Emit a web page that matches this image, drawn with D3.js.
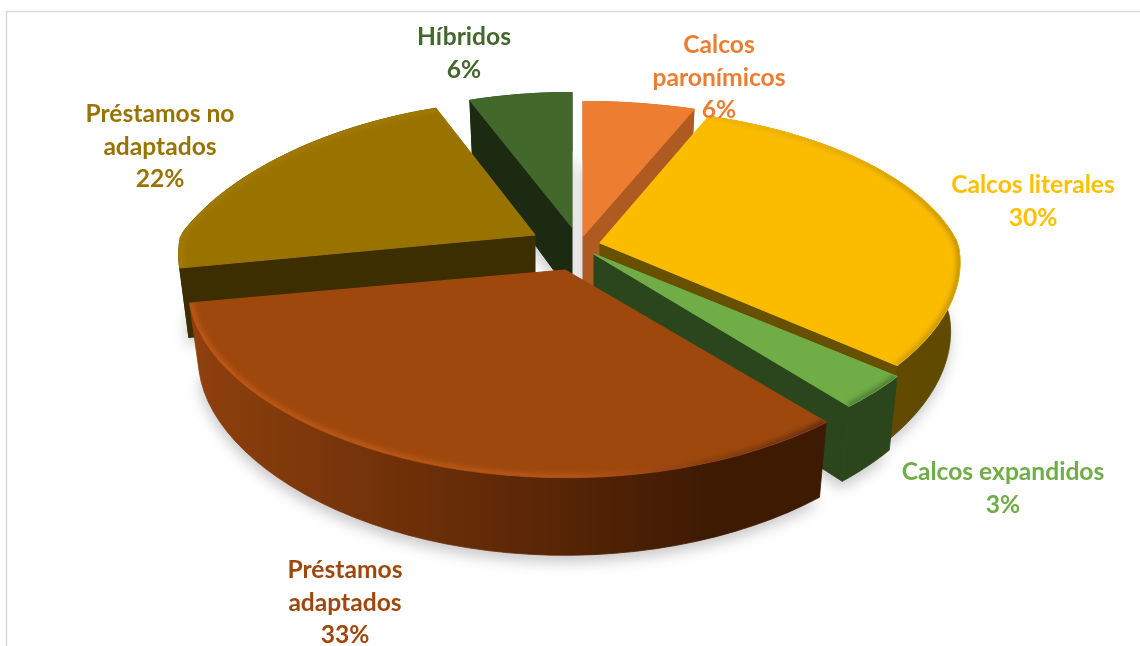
<!DOCTYPE html>
<html><head><meta charset="utf-8">
<script src="https://cdn.jsdelivr.net/npm/d3@7/dist/d3.min.js"></script>
<style>html,body{margin:0;padding:0;background:#fff;overflow:hidden}svg{display:block}</style>
</head><body><div id="chart"></div>
<script>
// ---- data ----
const categories = ["Calcos paronímicos","Calcos literales","Calcos expandidos","Préstamos adaptados","Préstamos no adaptados","Híbridos"];
const shares = [6,30,3,33,22,6];
const labelLines = [["Calcos","paronímicos","6%"],["Calcos literales","30%"],["Calcos expandidos","3%"],["Préstamos","adaptados","33%"],["Préstamos no","adaptados","22%"],["Híbridos","6%"]];
// ---- style ----
const topColors = ["#ED7D31","#FBBC00","#70AD47","#9E480E","#997300","#43682B"];
const textColors = ["#ED7D31","#FFC000","#70AD47","#9E480E","#997300","#43682B"];
const wallFrom = ["#AE5A21","#675000","#2B451D","#8F400D","#3D2E00","#1B2A11"];
const wallMid  = ["#AE5A21","#675000","#2B451D","#642B07","#3D2E00","#1B2A11"];
const wallTo   = ["#AE5A21","#604A00","#2B451D","#3E1A03","#3D2E00","#1B2A11"];
const rimFrom = ["#ED7D31","#F2B500","#4F7D32","#C05A18","#A27B00","#43682B"];
const rimMid  = ["#ED7D31","#DDA600","#4F7D32","#B9551A","#A27B00","#43682B"];
const rimTo   = ["#ED7D31","#C39400","#4F7D32","#5F2A07","#A27B00","#43682B"];
// ---- layout (screen position of each wedge's apex, horizontal radius factor, label anchor) ----
const apexX = [583,600,594,565,535,572], apexY = [236,243,254,270,235,227];
const radiusK = [1,.98,1,1.025,.97,1];
const labelX = [719,1033,1003,345,160,464], labelY = [53,193,480,578,122,45];
const drawOrder = [5,0,4,1,2,3];
const W=1140,H=646,Rx=365,RyFar=165,RyNear=170,persp=.2266,depth=68,inset=.026,lineH=32.5;

const svg=d3.select("#chart").append("svg").attr("width",W).attr("height",H);
const defs=svg.append("defs");
defs.append("filter").attr("id","shadow").attr("x","-20%").attr("y","-20%").attr("width","140%").attr("height","140%")
  .append("feGaussianBlur").attr("stdDeviation",7);
defs.append("filter").attr("id","rim").attr("x","-20%").attr("y","-20%").attr("width","140%").attr("height","140%")
  .append("feGaussianBlur").attr("stdDeviation",2.5);

svg.append("path").attr("d",`M6.5,${H}V11.5H${W}`).attr("fill","none").attr("stroke","#d9d9d9").attr("stroke-width",1.5);

const arcs=d3.pie().sort(null).value(d=>d)(shares);
function project(a,r,z,i){
  const x=Math.sin(a)*r, y=Math.cos(a)*r;
  const sY=y>0?1/(1+persp*y):1/(1+.8*persp*y);
  const sX=y>0?(x<0?1/(1+1.5*persp*y):1/(1+persp*y)):1/(1+.5*persp*y);
  const k=1-inset*z, Ry=y>0?RyFar:RyNear;
  return [apexX[i]+Rx*radiusK[i]*x*sX*k, apexY[i]-Ry*y*sY*k+depth*z*sY];
}
const line=d3.line();
const rimPts=(d,i,z)=>d3.range(0,41).map(t=>project(d.startAngle+(d.endAngle-d.startAngle)*t/40,1,z,i));
const facePts=(d,i,z)=>[project(0,0,z,i),...rimPts(d,i,z)];
function gradient(id,i,stops){
  const xs=rimPts(arcs[i],i,0).map(p=>p[0]);
  const lg=defs.append("linearGradient").attr("id",id).attr("gradientUnits","userSpaceOnUse")
    .attr("x1",d3.min(xs)).attr("x2",d3.max(xs)).attr("y1",0).attr("y2",0);
  stops.forEach(s=>lg.append("stop").attr("offset",s[0]).attr("stop-color",s[1]));
}

// soft shadow on the ground
const sh=svg.append("g").attr("filter","url(#shadow)").attr("opacity",.32);
arcs.forEach((d,i)=>sh.append("path").attr("d",line(facePts(d,i,1))+"Z")
   .attr("fill","#555").attr("transform","translate(-1,7)"));

drawOrder.forEach(i=>{
  const d=arcs[i],g=svg.append("g").attr("class","slice").attr("stroke-linejoin","round");
  gradient("wall"+i,i,[[0,wallFrom[i]],[.45,wallMid[i]],[.82,wallTo[i]]]);
  gradient("rimg"+i,i,[[0,rimFrom[i]],[.6,rimMid[i]],[1,rimTo[i]]]);
  // radial cut walls that face the viewer
  [[d.startAngle,d.startAngle-Math.PI/2],[d.endAngle,d.endAngle+Math.PI/2]].forEach(([a,n])=>{
    if(Math.cos(n)<-1e-6){
      const pts=[project(0,0,0,i),project(a,1,0,i),project(a,1,1,i),project(0,0,1,i)];
      g.append("path").attr("d",line(pts)+"Z").attr("fill",wallFrom[i]).attr("stroke",wallFrom[i]).attr("stroke-width",1);
    }
  });
  // outer wall
  const top=rimPts(d,i,0),bot=rimPts(d,i,1).reverse();
  g.append("path").attr("d",line(top.concat(bot))+"Z").attr("fill",`url(#wall${i})`)
   .attr("stroke",`url(#wall${i})`).attr("stroke-width",.8);
  // top face with bevelled rim
  defs.append("clipPath").attr("id","clip"+i).append("path").attr("d",line(facePts(d,i,0))+"Z");
  g.append("path").attr("d",line(facePts(d,i,0))+"Z").attr("fill",topColors[i]).attr("stroke",topColors[i]).attr("stroke-width",1.2);
  g.append("g").attr("clip-path",`url(#clip${i})`).append("path").attr("d",line(top)).attr("fill","none")
    .attr("stroke",`url(#rimg${i})`).attr("stroke-width",7).attr("filter","url(#rim)");
});

// labels
labelLines.forEach((ls,i)=>{
  const t=svg.append("text").attr("text-anchor","middle").attr("font-family","Lato, 'Open Sans', sans-serif")
    .attr("font-weight",700).attr("font-size",24.6).attr("fill",textColors[i]);
  ls.forEach((s,j)=>t.append("tspan").attr("x",labelX[i]).attr("y",labelY[i]+j*lineH).text(s));
});
</script></body></html>
